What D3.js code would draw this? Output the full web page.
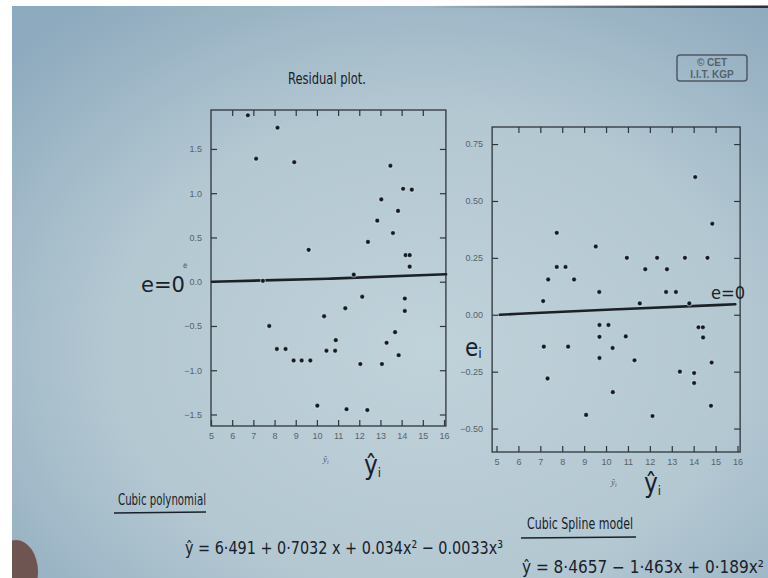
<!DOCTYPE html>
<html>
<head>
<meta charset="utf-8">
<script src="https://cdn.jsdelivr.net/npm/d3@7"></script>
<style>
body {margin:0; background:#fff;}
svg {display:block;}
.hand {font-family:"Liberation Sans Narrow","DejaVu Sans Condensed","Noto Sans",sans-serif; fill:#18212b;}
.tick text {font-family:"Liberation Sans",Arial,sans-serif; font-size:9px; fill:#56636d;}
.tick line {stroke:#2e353b; stroke-width:1.2;}
</style>
</head>
<body>
<svg width="768" height="578"></svg>
<script>
// cubic polynomial : fitted value / residual
var polyFit = [6.74,7.13,8.14,8.93,9.61,11.74,7.45,12.41,12.85,13.04,13.47,13.59,13.83,14.07,14.48,14.19,14.38,14.38,
               7.75,8.11,8.52,8.90,9.28,9.69,10.02,10.34,10.45,10.86,10.89,11.34,11.40,12.14,12.05,12.38,13.07,13.29,13.69,13.86,14.15,14.15]
var polyRes = [1.88,1.39,1.74,1.35,0.36,0.08,0.01,0.45,0.69,0.93,1.31,0.55,0.80,1.05,1.04,0.30,0.30,0.17,
               -0.50,-0.76,-0.76,-0.89,-0.89,-0.89,-1.40,-0.39,-0.78,-0.78,-0.66,-0.30,-1.44,-0.17,-0.93,-1.45,-0.93,-0.69,-0.57,-0.83,-0.19,-0.33]
// cubic spline : fitted value / residual
var splineFit = [7.13,7.36,7.75,7.75,8.15,8.54,9.53,9.69,10.95,11.79,12.33,12.78,12.74,13.19,13.60,14.07,14.63,14.85,11.54,13.80,
                 7.16,7.33,8.27,9.09,9.70,9.70,9.70,10.11,10.30,10.31,10.90,11.30,12.12,13.37,14.02,14.02,14.22,14.42,14.43,14.82,14.79]
var splineRes = [0.06,0.155,0.36,0.21,0.21,0.155,0.30,0.10,0.25,0.20,0.25,0.20,0.10,0.10,0.25,0.605,0.25,0.40,0.05,0.05,
                 -0.14,-0.28,-0.14,-0.44,-0.045,-0.097,-0.19,-0.045,-0.146,-0.34,-0.095,-0.20,-0.445,-0.25,-0.256,-0.30,-0.055,-0.055,-0.10,-0.21,-0.40]

var xTicks = [5,6,7,8,9,10,11,12,13,14,15,16]
var polyTicks = [-1.5,-1.0,-0.5,0.0,0.5,1.0,1.5]
var splineTicks = [-0.5,-0.25,0.0,0.25,0.5,0.75]
// hand drawn e = 0 lines (fit value, residual)
var polyZero = [[5.05,0.0],[10.5,0.03],[16.1,0.085]]
var splineZero = [[5.15,0.0],[10.5,0.025],[15.9,0.046]]

var svg = d3.select("svg")
var defs = svg.append("defs")
var grad = defs.append("radialGradient").attr("id","bg")
    .attr("cx","0.55").attr("cy","0.6").attr("r","0.75")
grad.append("stop").attr("offset","0").attr("stop-color","#c0d2da")
grad.append("stop").attr("offset","0.55").attr("stop-color","#b4c8d2")
grad.append("stop").attr("offset","1").attr("stop-color","#8eaabe")

var topLine = defs.append("linearGradient").attr("id","topline")
topLine.append("stop").attr("offset","0").attr("stop-color","#2a3035").attr("stop-opacity",0)
topLine.append("stop").attr("offset","1").attr("stop-color","#2a3035").attr("stop-opacity",1)

svg.append("rect").attr("x",12).attr("y",6).attr("width",756).attr("height",572).attr("fill","url(#bg)")
svg.append("rect").attr("x",420).attr("y",5.5).attr("width",348).attr("height",2.5).attr("fill","url(#topline)")

// finger in the bottom left corner
svg.append("clipPath").attr("id","slide").append("rect")
    .attr("x",12).attr("y",6).attr("width",756).attr("height",572)
svg.append("ellipse").attr("clip-path","url(#slide)")
    .attr("cx",16).attr("cy",572).attr("rx",22).attr("ry",32).attr("fill","#6f5551")

var drawPanel = function(p)
{
    var x = d3.scaleLinear().domain([5,16]).range([p.x5,p.x16])
    var y = d3.scaleLinear().domain(p.yDom).range([p.bottom,p.top])
    var g = svg.append("g")

    g.append("rect")
        .attr("x",x(p.xFrame[0])).attr("y",p.top)
        .attr("width",x(p.xFrame[1])-x(p.xFrame[0])).attr("height",p.bottom-p.top)
        .attr("fill","none").attr("stroke","#2e353b").attr("stroke-width",1.3)

    var left = x(p.xFrame[0]), right = x(p.xFrame[1])
    g.append("g").attr("transform","translate(0,"+p.bottom+")")
        .call(d3.axisBottom(x).tickValues(xTicks).tickSize(-6).tickPadding(7).tickFormat(d3.format("d")))
    g.append("g").attr("transform","translate(0,"+p.top+")")
        .call(d3.axisTop(x).tickValues(xTicks.slice(1,-1)).tickSize(-6).tickFormat(""))
    g.append("g").attr("transform","translate("+left+",0)")
        .call(d3.axisLeft(y).tickValues(p.yTicks).tickSize(-6).tickPadding(9).tickFormat(d3.format(p.fmt)))
    g.append("g").attr("transform","translate("+right+",0)")
        .call(d3.axisRight(y).tickValues(p.yTicks).tickSize(-6).tickFormat(""))
    g.selectAll(".domain").remove()

    g.append("path").datum(p.zero)
        .attr("d", d3.line().x(function(d){return x(d[0])}).y(function(d){return y(d[1])}).curve(d3.curveBasis))
        .attr("fill","none").attr("stroke","#1b2126").attr("stroke-width",2.6).attr("stroke-linecap","round")

    g.selectAll(".dot").data(p.fit).enter().append("circle")
        .attr("class","dot")
        .attr("cx",function(d){return x(d)})
        .attr("cy",function(d,i){return y(p.res[i])})
        .attr("r",2.4)
        .attr("fill","#131920")
        .attr("stroke","rgba(235,245,250,0.45)").attr("stroke-width",1.2)

    // printed axis label under the ticks
    var lab = g.append("text").attr("x",p.labX).attr("y",p.labY)
        .attr("font-family","Liberation Serif, serif").attr("font-style","italic")
        .attr("font-size",9).attr("fill","#4d5a64")
    lab.append("tspan").text("ŷ")
    lab.append("tspan").attr("font-size",6).attr("dy",2).text("i")
}

drawPanel({x5:211, x16:444, xFrame:[5,16.09], top:110, bottom:426, yDom:[-1.63,1.94],
           yTicks:polyTicks, fmt:".1f", fit:polyFit, res:polyRes, zero:polyZero, labX:323, labY:462})
drawPanel({x5:496.5, x16:737.5, xFrame:[4.8,16.12], top:127, bottom:452, yDom:[-0.603,0.825],
           yTicks:splineTicks, fmt:".2f", fit:splineFit, res:splineRes, zero:splineZero, labX:611, labY:485})

// handwriting on the slide
var hand = function(txt, x, y, size, len)
{
    var t = svg.append("text").attr("class","hand").attr("x",x).attr("y",y).attr("font-size",size)
    if (len) { t.attr("textLength",len).attr("lengthAdjust","spacingAndGlyphs") }
    t.text(txt)
    return t
}
hand("Residual plot.", 288, 84, 15, 78)
hand("e=0", 141, 292, 21, 44)
hand("e=0", 711, 299, 18, 34)
var ei = svg.append("text").attr("class","hand").attr("x",465).attr("y",356).attr("font-size",24)
ei.append("tspan").text("e")
ei.append("tspan").attr("font-size",14).attr("dy",2).text("i")

var yh1 = svg.append("text").attr("class","hand").attr("x",364).attr("y",474).attr("font-size",26)
yh1.append("tspan").text("ŷ")
yh1.append("tspan").attr("font-size",13).attr("dy",3).text("i")
var yh2 = svg.append("text").attr("class","hand").attr("x",644).attr("y",492).attr("font-size",26)
yh2.append("tspan").text("ŷ")
yh2.append("tspan").attr("font-size",13).attr("dy",3).text("i")

svg.append("text").attr("x",183).attr("y",268).attr("font-family","Liberation Sans, sans-serif")
    .attr("font-size",8).attr("fill","#4d5a64").text("ê")

hand("Cubic polynomial", 118, 505, 15, 88)
svg.append("line").attr("x1",114).attr("x2",206).attr("y1",513).attr("y2",512)
    .attr("stroke","#18212b").attr("stroke-width",1.5)
hand("ŷ = 6·491 + 0·7032 x + 0.034x² − 0.0033x³", 185, 554, 18, 318)

hand("Cubic Spline model", 527, 529, 15, 106)
svg.append("line").attr("x1",521).attr("x2",636).attr("y1",538).attr("y2",537)
    .attr("stroke","#18212b").attr("stroke-width",1.5)
hand("ŷ = 8·4657 − 1·463x + 0·189x²", 522, 573, 17, 242)

// CET stamp
svg.append("rect").attr("x",677).attr("y",55).attr("width",70).attr("height",26).attr("rx",3)
    .attr("fill","none").attr("stroke","#4e5a64").attr("stroke-width",1.5)
svg.append("text").attr("x",712).attr("y",66).attr("text-anchor","middle").attr("font-weight","bold")
    .attr("font-family","Liberation Sans, sans-serif").attr("font-size",10).attr("fill","#56626c").text("© CET")
svg.append("text").attr("x",712).attr("y",77.5).attr("text-anchor","middle").attr("font-weight","bold")
    .attr("font-family","Liberation Sans, sans-serif").attr("font-size",10).attr("fill","#56626c").text("I.I.T. KGP")
</script>
</body>
</html>
